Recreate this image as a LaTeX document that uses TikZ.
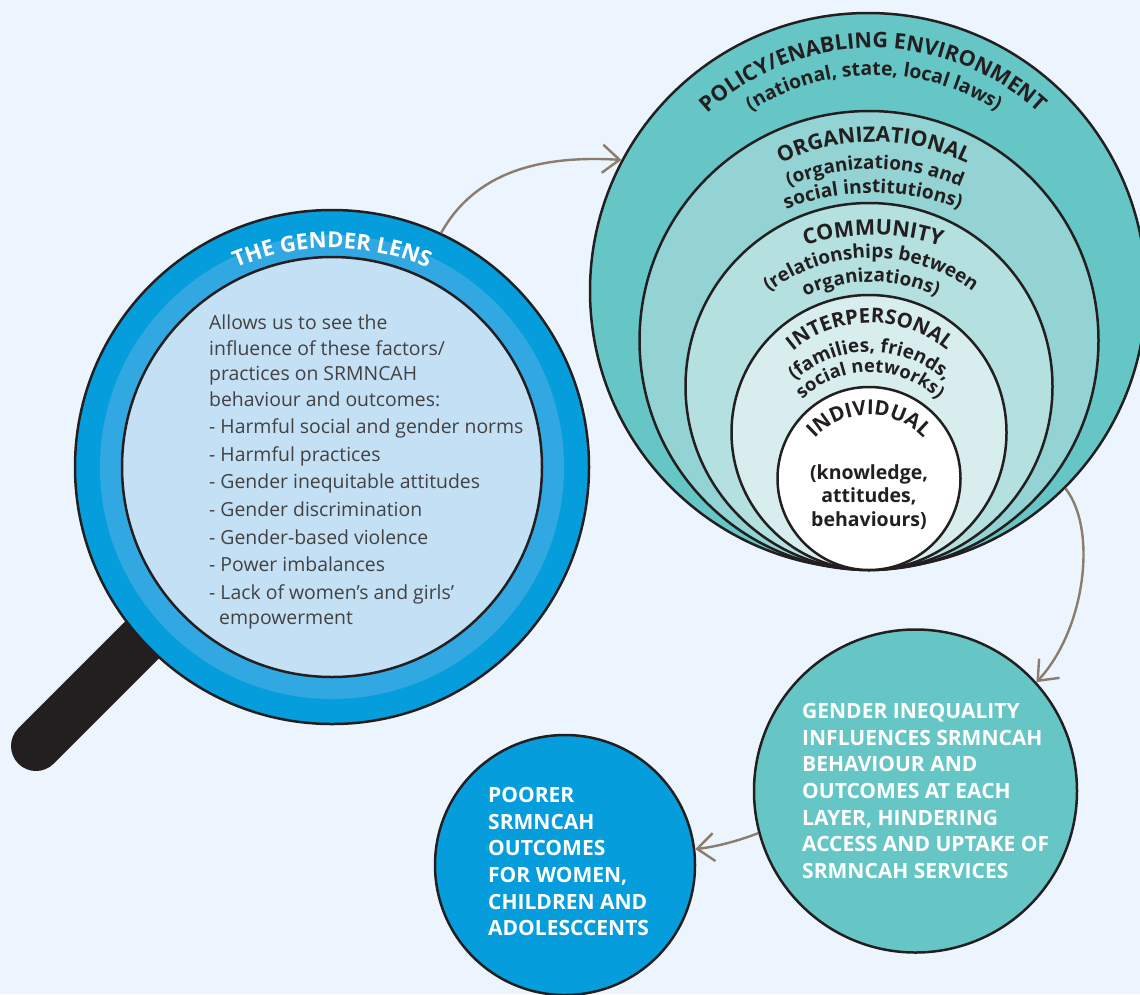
\documentclass[tikz,border=0pt]{standalone}
\usepackage{fontspec}
\setmainfont{Open Sans}
\usetikzlibrary{decorations.text,arrows.meta}
\definecolor{bgc}{HTML}{ECF5FD}
\definecolor{ink}{HTML}{231F20}
\definecolor{tealA}{HTML}{66C6C6}
\definecolor{tealB}{HTML}{93D3D3}
\definecolor{tealC}{HTML}{B5E0E0}
\definecolor{tealD}{HTML}{D7EDEE}
\definecolor{blueA}{HTML}{069DDC}
\definecolor{blueB}{HTML}{32A8E2}
\definecolor{blueC}{HTML}{C3E0F5}
\definecolor{arrowc}{HTML}{8A7D6E}
\newcommand{\arctext}[5]{% cx cy r size text
  \path[decorate,decoration={text along path,text align=center,
    text={|\fontsize{#4}{#4}\selectfont\bfseries\color{ink}|#5}}]
    plot[domain=-175:-5,samples=120] ({#1+#3*cos(\x)},{#2+#3*sin(\x)});}
\newcommand{\arctextw}[5]{%
  \path[decorate,decoration={text along path,text align=center,
    text={|\fontsize{#4}{#4}\selectfont\bfseries\color{white}|#5}}]
    plot[domain=-175:-5,samples=120] ({#1+#3*cos(\x)},{#2+#3*sin(\x)});}
\tikzset{
  disc/.style={circle,draw=ink,line width=2.5pt,inner sep=0pt,minimum size=#1},
  flow/.style={draw=arrowc,line width=2.4pt,-{Straight Barb[length=17pt,width=28pt,line width=2.4pt]}},
  body/.style={font=\fontsize{19.4}{25.4}\selectfont,text=ink!85,align=left,anchor=north west,inner sep=0pt},
  caps/.style={font=\fontsize{21}{26.67}\selectfont\bfseries,text=white,align=left,anchor=north west,inner sep=0pt},
  inner/.style={font=\fontsize{19.5}{23.5}\selectfont\bfseries,text=ink,align=center,inner sep=0pt}
}
\begin{document}
\begin{tikzpicture}[x=1pt,y=-1pt]
\useasboundingbox[fill=bgc] (0,0) rectangle (1140,994);
\draw[ink,line width=50pt,line cap=round] (36,746) -- (160,622);
\node[disc=514pt,fill=blueA] (lens) at (332,467) {};
\node[circle,fill=blueB,inner sep=0pt,minimum size=464pt] (lensring) at (332,467) {};
\node[disc=420pt,fill=blueC] (lensin) at (332,467) {};
\arctextw{332}{488}{240}{22}{THE GENDER LENS}
\node[body] (lenstext) at (209,315) {Allows us to see the\\influence of these factors/\\practices on SRMNCAH\\behaviour and outcomes:\\[2.2pt]- Harmful social and gender norms\\[2.2pt]- Harmful practices\\[2.2pt]- Gender inequitable attitudes\\[2.2pt]- Gender discrimination\\[2.2pt]- Gender-based violence\\[2.2pt]- Power imbalances\\[2.2pt]- Lack of women’s and girls’\\\hspace*{10pt}empowerment};
\node[disc=556pt,fill=tealA] (policy) at (868,291) {};
\node[disc=459pt,fill=tealB] (org) at (869,340.5) {};
\node[disc=367pt,fill=tealC] (comm) at (869,386.5) {};
\node[disc=275pt,fill=tealD] (inter) at (869,432.5) {};
\node[disc=183pt,fill=white] (indiv) at (869,478.5) {};
\arctext{873}{291}{243}{21.5}{POLICY/ENABLING ENVIRONMENT}
\arctext{874}{303}{228}{19.4}{(national, state, local laws)}
\arctext{874}{354}{212}{21.3}{ORGANIZATIONAL}
\arctext{875}{390}{221}{19}{(organizations and}
\arctext{873}{434}{241}{19.2}{social institutions)}
\arctext{873}{454}{219}{21.5}{COMMUNITY}
\arctext{871}{428}{170}{19}{(relationships between}
\arctext{871}{440}{158}{19}{organizations)}
\arctext{870}{443}{120}{20.4}{INTERPERSONAL}
\arctext{870}{464}{112}{19}{(families, friends,}
\arctext{870}{469}{97}{18.3}{social networks)}
\arctext{869}{490}{75}{20.5}{INDIVIDUAL}
\node[inner] (indivtext) at (869,497) {(knowledge,\\attitudes,\\behaviours)};
\node[disc=323pt,fill=tealA] (ineq) at (915.5,791) {};
\node[caps] (ineqtext) at (802,703) {GENDER INEQUALITY\\INFLUENCES SRMNCAH\\BEHAVIOUR AND\\OUTCOMES AT EACH\\LAYER, HINDERING\\ACCESS AND UPTAKE OF\\SRMNCAH SERVICES};
\node[disc=260pt,fill=blueA] (poor) at (565,865) {};
\node[caps] (poortext) at (488,787) {POORER\\SRMNCAH\\OUTCOMES\\FOR WOMEN,\\CHILDREN AND\\ADOLESCCENTS};
\draw[flow] (lens.65) .. controls (475,172) and (540,155) .. (policy.152);
\draw[flow] (policy.-45) .. controls (1098,530) and (1085,630) .. (ineq.42);
\draw[flow] (ineq.195) .. controls (738,841) and (715,847) .. (poor.7);
\end{tikzpicture}
\end{document}
